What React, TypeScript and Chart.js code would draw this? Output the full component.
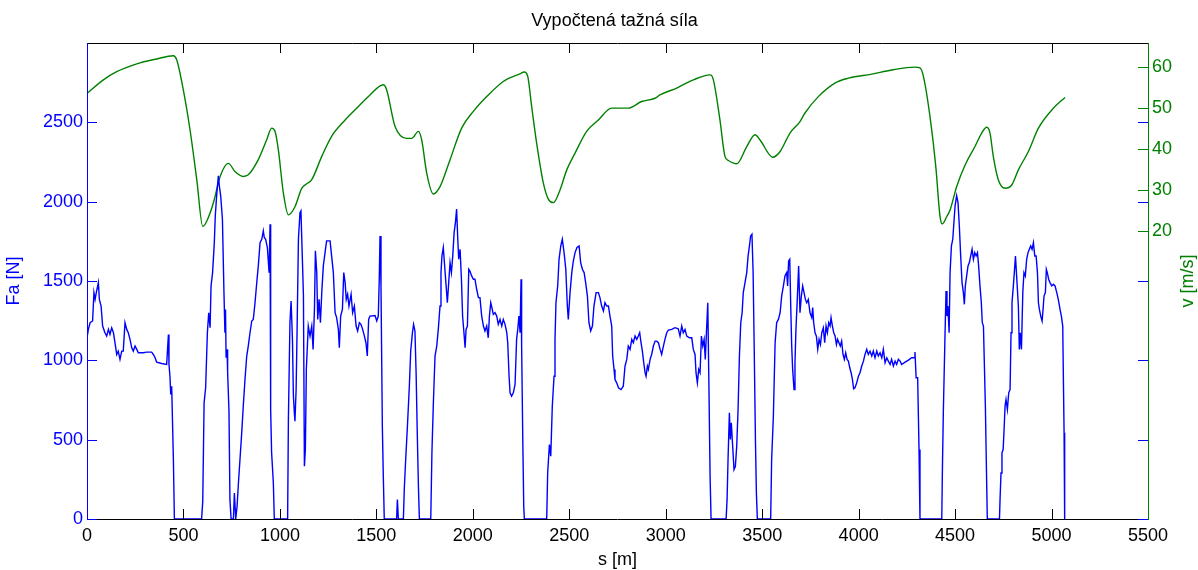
import { useEffect, useRef } from "react";
import { Chart, registerables } from "chart.js";

Chart.register(...registerables);

const TITLE = "Vypočtená tažná síla";
const DISTANCE_LABEL = "s [m]";
const FORCE_LABEL = "Fa [N]";
const SPEED_LABEL = "v [m/s]";

const distanceTicks = [0, 500, 1000, 1500, 2000, 2500, 3000, 3500, 4000, 4500, 5000, 5500];
const forceTicks = [0, 500, 1000, 1500, 2000, 2500];
const speedTicks = [20, 30, 40, 50, 60];

// Tractive force samples: [distance s (m), force Fa (N)]
const forceSamples: [number, number][] = [
  [0, 1142], [7, 1195], [16, 1237], [29, 1248], [36, 1427], [42, 1384], [50, 1437], [59, 1490],
  [64, 1384], [73, 1342], [81, 1216], [93, 1174], [102, 1153], [111, 1195], [119, 1163], [128, 1205],
  [137, 1174], [145, 1111], [154, 1037], [162, 1058], [171, 1006], [180, 1058], [188, 1058], [197, 1237],
  [206, 1195], [214, 1174], [223, 1132], [232, 1079], [240, 1058], [249, 1090], [258, 1069], [266, 1048],
  [292, 1048], [309, 1052], [335, 1052], [344, 1037], [353, 1016], [361, 989], [387, 980], [413, 974],
  [422, 1163], [425, 974], [430, 900], [434, 785], [439, 837], [448, 364], [453, 0], [594, 0],
  [600, 111], [607, 732], [615, 827], [624, 1174], [631, 1300], [638, 1205], [643, 1469], [651, 1553],
  [660, 1742], [665, 1910], [672, 2037], [681, 2163], [686, 2100], [693, 2037], [702, 1889], [710, 1427],
  [715, 1174], [718, 1321], [721, 1016], [726, 1069], [729, 922], [736, 680], [741, 122], [747, 0],
  [759, 0], [764, 164], [771, 0], [778, 80], [785, 227], [793, 375], [802, 543], [810, 711],
  [819, 879], [828, 1027], [836, 1090], [845, 1174], [854, 1248], [862, 1258], [871, 1363], [880, 1490],
  [888, 1595], [897, 1742], [906, 1763], [914, 1816], [919, 1774], [926, 1763], [935, 1711], [944, 1553],
  [949, 1858], [952, 690], [957, 417], [966, 227], [971, 0], [1040, 0], [1044, 627], [1052, 1237],
  [1058, 1374], [1065, 1132], [1070, 774], [1075, 669], [1078, 616], [1084, 816], [1089, 1185], [1096, 1763],
  [1104, 1931], [1109, 1942], [1116, 1658], [1122, 1405], [1127, 332], [1132, 438], [1137, 943], [1147, 1216],
  [1156, 1153], [1165, 1216], [1172, 1069], [1179, 1321], [1184, 1690], [1191, 1553], [1196, 1258], [1203, 1384],
  [1210, 1237], [1217, 1427], [1225, 1595], [1234, 1679], [1242, 1753], [1260, 1753], [1268, 1658], [1277, 1553],
  [1286, 1300], [1294, 1269], [1303, 1195], [1308, 1079], [1315, 1279], [1324, 1321], [1331, 1553], [1338, 1490],
  [1344, 1384], [1351, 1416], [1358, 1342], [1369, 1416], [1377, 1300], [1386, 1342], [1395, 1216], [1403, 1185],
  [1412, 1237], [1420, 1227], [1429, 1195], [1438, 1153], [1446, 1111], [1453, 1027], [1460, 1258], [1467, 1279],
  [1493, 1283], [1502, 1248], [1510, 1279], [1515, 1511], [1519, 1784], [1524, 1469], [1531, 585], [1536, 269],
  [1541, 0], [1605, 0], [1609, 122], [1614, 0], [1640, 0], [1645, 196], [1652, 375], [1661, 585],
  [1671, 837], [1678, 1058], [1687, 1174], [1693, 1227], [1700, 1185], [1706, 922], [1712, 543], [1718, 206],
  [1723, 0], [1782, 0], [1788, 417], [1795, 711], [1804, 1027], [1813, 1090], [1821, 1195], [1830, 1342],
  [1835, 1553], [1840, 1658], [1847, 1711], [1854, 1595], [1861, 1479], [1868, 1363], [1875, 1490], [1882, 1616],
  [1889, 1553], [1896, 1658], [1903, 1805], [1909, 1858], [1916, 1953], [1922, 1763], [1927, 1637], [1934, 1700],
  [1941, 1511], [1947, 1279], [1954, 1174], [1960, 1079], [1965, 1195], [1972, 1216], [1979, 1574], [1985, 1563],
  [1994, 1532], [2003, 1511], [2011, 1511], [2020, 1448], [2029, 1395], [2037, 1395], [2046, 1279], [2055, 1216],
  [2063, 1185], [2072, 1216], [2080, 1142], [2086, 1279], [2093, 1363], [2099, 1332], [2106, 1290], [2115, 1300],
  [2124, 1279], [2132, 1227], [2141, 1258], [2150, 1216], [2158, 1258], [2167, 1227], [2176, 1174], [2181, 1111],
  [2188, 900], [2193, 795], [2201, 774], [2210, 795], [2219, 848], [2227, 1132], [2233, 1195], [2239, 1279],
  [2245, 1174], [2250, 1511], [2253, 1090], [2259, 501], [2264, 80], [2267, 0], [2383, 0], [2388, 290],
  [2397, 469], [2404, 396], [2412, 711], [2421, 900], [2426, 1132], [2431, 1363], [2440, 1469], [2447, 1637],
  [2456, 1721], [2464, 1763], [2473, 1679], [2482, 1574], [2490, 1342], [2495, 1258], [2504, 1427], [2513, 1553],
  [2521, 1626], [2530, 1679], [2540, 1711], [2551, 1721], [2559, 1616], [2568, 1574], [2577, 1553], [2585, 1490],
  [2594, 1405], [2602, 1237], [2611, 1185], [2620, 1216], [2628, 1342], [2639, 1427], [2651, 1427], [2659, 1395],
  [2668, 1342], [2677, 1311], [2685, 1363], [2694, 1342], [2703, 1342], [2711, 1279], [2720, 1216], [2725, 1027],
  [2732, 943], [2737, 879], [2746, 858], [2755, 827], [2768, 816], [2780, 837], [2789, 964], [2798, 1006],
  [2806, 1090], [2815, 1069], [2824, 1132], [2832, 1111], [2841, 1153], [2850, 1132], [2858, 1153], [2865, 1174],
  [2872, 1111], [2879, 1058], [2886, 985], [2893, 922], [2898, 900], [2905, 964], [2910, 943], [2919, 1006],
  [2927, 1037], [2936, 1090], [2945, 1121], [2953, 1121], [2962, 1111], [2971, 1069], [2979, 1037], [2988, 1090],
  [2996, 1132], [3005, 1174], [3014, 1191], [3031, 1195], [3048, 1206], [3065, 1199], [3074, 1153], [3083, 1216],
  [3091, 1174], [3100, 1195], [3109, 1153], [3123, 1142], [3135, 1142], [3143, 1069], [3152, 1037], [3157, 922],
  [3164, 858], [3171, 943], [3178, 922], [3185, 1153], [3192, 1090], [3199, 1132], [3205, 1006], [3211, 1174],
  [3218, 1363], [3223, 922], [3230, 269], [3235, 0], [3313, 0], [3318, 122], [3323, 375], [3330, 669],
  [3335, 501], [3340, 606], [3347, 459], [3354, 311], [3361, 332], [3368, 459], [3375, 690], [3382, 1027],
  [3389, 1237], [3396, 1300], [3402, 1427], [3411, 1490], [3420, 1553], [3427, 1658], [3434, 1721], [3440, 1784],
  [3447, 1795], [3453, 1553], [3459, 1048], [3465, 501], [3470, 164], [3475, 0], [3544, 0], [3549, 375],
  [3558, 648], [3567, 1111], [3575, 1237], [3584, 1258], [3593, 1300], [3601, 1405], [3610, 1469], [3618, 1532],
  [3627, 1553], [3632, 1469], [3637, 1626], [3643, 1637], [3648, 1342], [3653, 1090], [3658, 943], [3665, 816],
  [3670, 985], [3675, 1195], [3682, 1384], [3689, 1595], [3696, 1300], [3703, 1405], [3710, 1469], [3717, 1427],
  [3724, 1384], [3731, 1363], [3739, 1384], [3748, 1300], [3757, 1269], [3762, 1332], [3767, 1237], [3774, 1174],
  [3781, 1153], [3788, 1069], [3795, 1132], [3802, 1100], [3809, 1174], [3817, 1205], [3824, 1111], [3831, 1216],
  [3838, 1174], [3845, 1237], [3852, 1216], [3857, 1269], [3864, 1216], [3871, 1174], [3878, 1153], [3885, 1100],
  [3891, 1132], [3898, 1111], [3905, 1090], [3912, 1121], [3919, 1037], [3926, 1006], [3933, 1048], [3940, 1006],
  [3947, 995], [3954, 953], [3961, 922], [3968, 879], [3974, 821], [3981, 827], [3990, 858], [3999, 900],
  [4007, 922], [4016, 964], [4025, 995], [4033, 1037], [4042, 1069], [4050, 1037], [4059, 1058], [4068, 1027],
  [4076, 1058], [4085, 1016], [4094, 1058], [4102, 1027], [4111, 1048], [4120, 1016], [4128, 1069], [4137, 985],
  [4146, 1016], [4154, 995], [4163, 974], [4171, 1006], [4180, 964], [4189, 995], [4197, 974], [4206, 1006],
  [4215, 995], [4223, 974], [4241, 989], [4258, 1001], [4275, 1016], [4287, 1016], [4292, 1052], [4298, 890],
  [4306, 890], [4313, 438], [4318, 0], [4431, 0], [4434, 290], [4439, 669], [4448, 1174], [4453, 1437],
  [4458, 1279], [4463, 1342], [4469, 1174], [4474, 1553], [4481, 1721], [4488, 1763], [4495, 1889], [4500, 1974],
  [4508, 2037], [4515, 1995], [4522, 1847], [4529, 1658], [4536, 1490], [4543, 1427], [4548, 1353], [4553, 1469],
  [4560, 1532], [4567, 1595], [4574, 1616], [4581, 1658], [4588, 1700], [4595, 1637], [4602, 1679], [4609, 1658],
  [4616, 1679], [4622, 1595], [4629, 1469], [4636, 1363], [4641, 1237], [4647, 1216], [4652, 964], [4657, 711],
  [4662, 353], [4667, 0], [4730, 0], [4733, 122], [4738, 290], [4743, 417], [4749, 438], [4754, 564],
  [4759, 711], [4764, 753], [4771, 690], [4778, 795], [4785, 816], [4790, 1174], [4795, 1363], [4802, 1469],
  [4807, 1553], [4813, 1658], [4818, 1553], [4823, 1448], [4828, 1342], [4833, 1069], [4838, 1174], [4844, 1069],
  [4851, 1427], [4857, 1553], [4864, 1532], [4871, 1637], [4878, 1679], [4885, 1700], [4892, 1721], [4899, 1700],
  [4906, 1742], [4913, 1658], [4920, 1658], [4927, 1553], [4932, 1363], [4937, 1321], [4944, 1279], [4951, 1248],
  [4956, 1321], [4961, 1405], [4968, 1427], [4973, 1574], [4978, 1553], [4985, 1511], [4992, 1490], [5001, 1469],
  [5010, 1480], [5018, 1469], [5027, 1427], [5035, 1384], [5044, 1321], [5051, 1279], [5058, 1216], [5061, 922],
  [5065, 543], [5068, 0],
];

// Vehicle speed samples: [distance s (m), speed v (m/s)]
const speedSamples: [number, number][] = [
  [0, 53.6], [85, 56.9], [154, 58.9], [258, 60.8], [361, 62.0], [448, 62.8], [465, 61.8], [499, 54.5],
  [534, 44.7], [569, 32.5], [600, 21.1], [620, 22.3], [655, 26.8], [690, 33.3], [733, 36.5], [767, 34.5],
  [810, 33.3], [836, 33.7], [888, 37.4], [931, 42.2], [957, 45.1], [975, 44.3], [992, 39.8], [1018, 29.2],
  [1044, 23.9], [1078, 25.9], [1113, 30.4], [1139, 31.5], [1165, 32.5], [1217, 38.2], [1268, 43.1], [1338, 47.1],
  [1407, 50.4], [1467, 53.2], [1536, 55.7], [1553, 54.5], [1597, 45.5], [1657, 42.6], [1683, 42.6], [1718, 44.3],
  [1735, 42.2], [1761, 34.1], [1795, 29.0], [1830, 30.8], [1882, 37.4], [1942, 45.1], [2003, 49.2], [2072, 52.8],
  [2158, 56.5], [2241, 58.3], [2267, 58.8], [2285, 57.7], [2305, 50.4], [2331, 41.4], [2366, 31.6], [2392, 27.7],
  [2418, 26.9], [2452, 30.0], [2487, 34.9], [2530, 39.0], [2590, 44.3], [2651, 47.1], [2720, 50.0], [2806, 50.0],
  [2875, 51.6], [2945, 52.4], [2970, 53.2], [3057, 54.9], [3143, 56.9], [3230, 58.1], [3247, 56.9], [3281, 47.1],
  [3307, 38.2], [3325, 37.2], [3368, 36.4], [3420, 40.6], [3463, 43.5], [3489, 42.2], [3555, 38.0], [3593, 39.4],
  [3644, 43.9], [3696, 46.7], [3722, 48.8], [3791, 52.8], [3877, 56.1], [3947, 57.3], [4068, 58.3], [4171, 59.3],
  [4292, 60.0], [4318, 59.8], [4336, 57.7], [4370, 47.9], [4400, 35.7], [4422, 23.5], [4434, 21.7], [4457, 23.5],
  [4474, 25.1], [4508, 30.8], [4552, 36.1], [4603, 40.6], [4638, 43.9], [4664, 45.3], [4681, 43.9], [4698, 38.2],
  [4724, 32.5], [4759, 30.4], [4794, 31.2], [4828, 34.9], [4880, 39.4], [4932, 45.1], [5010, 50.0], [5070, 52.6],
];

const FONT = "'Liberation Sans', Arial, sans-serif";
const FONT_SIZE = 18;
const BLUE = "#0000ff";
const GREEN = "#008000";
const TICK_LEN = 10;

// Draws the box, inward tick marks and axis titles on top of the plotted lines.
const frameAndTitles = {
  id: "frameAndTitles",
  afterDraw(chart: any) {
    const { ctx, chartArea: a, scales } = chart;
    const xs = scales.x;
    const yf = scales.yForce;
    const yv = scales.ySpeed;
    const snap = (p: number) => Math.round(p) + 0.5;
    ctx.save();
    ctx.lineWidth = 1;

    // top and bottom edges with distance ticks
    ctx.strokeStyle = "#000";
    ctx.beginPath();
    ctx.moveTo(a.left, snap(a.top));
    ctx.lineTo(a.right, snap(a.top));
    ctx.moveTo(a.left, snap(a.bottom));
    ctx.lineTo(a.right, snap(a.bottom));
    distanceTicks.forEach((v) => {
      const px = snap(xs.getPixelForValue(v));
      ctx.moveTo(px, a.bottom);
      ctx.lineTo(px, a.bottom - TICK_LEN);
      ctx.moveTo(px, a.top);
      ctx.lineTo(px, a.top + TICK_LEN);
    });
    ctx.stroke();

    // force axis (left) and its ticks mirrored on the right edge
    ctx.strokeStyle = BLUE;
    ctx.beginPath();
    ctx.moveTo(snap(a.left), a.top);
    ctx.lineTo(snap(a.left), a.bottom + 1);
    forceTicks.forEach((v) => {
      const py = snap(yf.getPixelForValue(v));
      ctx.moveTo(a.left, py);
      ctx.lineTo(a.left + TICK_LEN, py);
      ctx.moveTo(a.right, py);
      ctx.lineTo(a.right - TICK_LEN, py);
    });
    ctx.stroke();

    // speed axis (right)
    ctx.strokeStyle = GREEN;
    ctx.beginPath();
    ctx.moveTo(snap(a.right), a.top);
    ctx.lineTo(snap(a.right), a.bottom + 1);
    speedTicks.forEach((v) => {
      const py = snap(yv.getPixelForValue(v));
      ctx.moveTo(a.right, py);
      ctx.lineTo(a.right - TICK_LEN, py);
    });
    ctx.stroke();

    // titles
    const cx = (a.left + a.right) / 2;
    const cy = (a.top + a.bottom) / 2;
    ctx.font = `${FONT_SIZE}px ${FONT}`;
    ctx.textAlign = "center";
    ctx.textBaseline = "middle";
    ctx.fillStyle = "#000";
    ctx.fillText(TITLE, cx - 3, 21);
    ctx.fillText(DISTANCE_LABEL, cx, 560);

    ctx.fillStyle = BLUE;
    ctx.save();
    ctx.translate(14, cy);
    ctx.rotate(-Math.PI / 2);
    ctx.fillText(FORCE_LABEL, 0, 0);
    ctx.restore();

    ctx.fillStyle = GREEN;
    ctx.save();
    ctx.translate(1188, cy);
    ctx.rotate(-Math.PI / 2);
    ctx.fillText(SPEED_LABEL, 0, 0);
    ctx.restore();

    ctx.restore();
  },
};

export default function App() {
  const canvasRef = useRef<HTMLCanvasElement>(null);

  useEffect(() => {
    const canvas = canvasRef.current;
    if (!canvas) return;
    const tickFont = { family: FONT, size: FONT_SIZE };

    const chart = new Chart(canvas, {
      type: "line",
      data: {
        datasets: [
          {
            label: FORCE_LABEL,
            data: forceSamples.map(([s, f]) => ({ x: s, y: f })),
            yAxisID: "yForce",
            borderColor: BLUE,
            borderWidth: 1.4,
            pointRadius: 0,
            tension: 0,
          },
          {
            label: SPEED_LABEL,
            data: speedSamples.map(([s, v]) => ({ x: s, y: v })),
            yAxisID: "ySpeed",
            borderColor: GREEN,
            borderWidth: 1.4,
            pointRadius: 0,
            cubicInterpolationMode: "monotone",
          },
        ],
      },
      options: {
        responsive: false,
        animation: false,
        devicePixelRatio: 1,
        layout: { padding: { top: 43, left: 0, right: 0, bottom: 0 } },
        plugins: {
          legend: { display: false },
          title: { display: false },
          tooltip: { enabled: false },
        },
        scales: {
          x: {
            type: "linear",
            min: 0,
            max: 5500,
            grid: { display: false, drawTicks: false },
            border: { display: false },
            afterBuildTicks: (s: any) => {
              s.ticks = distanceTicks.map((v) => ({ value: v }));
            },
            afterFit: (s: any) => {
              s.height = 51;
            },
            ticks: {
              autoSkip: false,
              maxRotation: 0,
              padding: 6,
              color: "#000",
              font: tickFont,
              callback: (v: any) => String(v),
            },
          },
          yForce: {
            type: "linear",
            position: "left",
            min: 0,
            max: 3000,
            grid: { display: false, drawTicks: false },
            border: { display: false },
            afterBuildTicks: (s: any) => {
              s.ticks = forceTicks.map((v) => ({ value: v }));
            },
            afterFit: (s: any) => {
              s.width = 87;
            },
            ticks: {
              padding: 4,
              color: BLUE,
              font: tickFont,
              callback: (v: any) => String(v),
            },
          },
          ySpeed: {
            type: "linear",
            position: "right",
            min: -50.4,
            max: 65.9,
            grid: { display: false, drawTicks: false },
            border: { display: false },
            afterBuildTicks: (s: any) => {
              s.ticks = speedTicks.map((v) => ({ value: v }));
            },
            afterFit: (s: any) => {
              s.width = 50;
            },
            ticks: {
              padding: 4,
              color: GREEN,
              font: tickFont,
              callback: (v: any) => String(v),
            },
          },
        },
      },
      plugins: [frameAndTitles],
    });

    return () => chart.destroy();
  }, []);

  return (
    <div style={{ position: "fixed", left: 0, top: 0, width: 1198, height: 570, background: "#fff" }}>
      <canvas ref={canvasRef} width={1198} height={570} style={{ display: "block" }} />
    </div>
  );
}
